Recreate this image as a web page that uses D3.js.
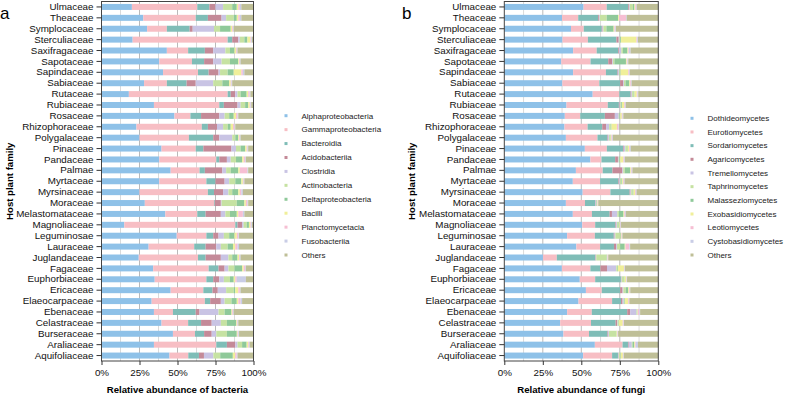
<!DOCTYPE html>
<html>
<head>
<meta charset="utf-8">
<script src="https://cdn.jsdelivr.net/npm/d3@7"></script>
<style>
  body { margin: 0; background: #fff; }
  svg text { font-family: "Liberation Sans", Arial, Helvetica, sans-serif; }
</style>
</head>
<body>
<div id="chart"></div>
<script>
// host plant families, top to bottom
const families = ["Ulmaceae", "Theaceae", "Symplocaceae", "Sterculiaceae", "Saxifragaceae", "Sapotaceae",
  "Sapindaceae", "Sabiaceae", "Rutaceae", "Rubiaceae", "Rosaceae", "Rhizophoraceae", "Polygalaceae",
  "Pinaceae", "Pandaceae", "Palmae", "Myrtaceae", "Myrsinaceae", "Moraceae", "Melastomataceae",
  "Magnoliaceae", "Leguminosae", "Lauraceae", "Juglandaceae", "Fagaceae", "Euphorbiaceae", "Ericaceae",
  "Elaeocarpaceae", "Ebenaceae", "Celastraceae", "Burseraceae", "Araliaceae", "Aquifoliaceae"];

const bacteriaTaxa = ["Alphaproteobacteria", "Gammaproteobacteria", "Bacteroidia", "Acidobacteriia", "Clostridia",
  "Actinobacteria", "Deltaproteobacteria", "Bacilli", "Planctomycetacia", "Fusobacteriia", "Others"];

const fungiTaxa = ["Dothideomycetes", "Eurotiomycetes", "Sordariomycetes", "Agaricomycetes", "Tremellomycetes",
  "Taphrinomycetes", "Malasseziomycetes", "Exobasidiomycetes", "Leotiomycetes", "Cystobasidiomycetes", "Others"];

const taxaColors = ["#8ec1e8", "#f7bec4", "#7fbdb7", "#c48a98", "#c9c4e4", "#c6e2a2",
  "#8fc99a", "#f0ef9a", "#f6bfd3", "#c9cde6", "#bfbf97"];

const xTicks = [0, 0.25, 0.5, 0.75, 1];

// relative abundance (%) per family, columns in taxa order
const bacteriaValues = [
  [20, 43, 8, 4, 5, 6, 3, 1, 1, 1, 8],
  [27.5, 34.5, 8, 9, 3, 5, 2, 1, 1, 1, 8],
  [30, 13, 15, 2, 14, 4, 7, 1, 0.5, 0.5, 13],
  [20.5, 62.5, 3, 4, 1, 3, 2, 2, 0.5, 0.5, 1],
  [43, 14, 11, 5.5, 8, 3, 3, 1, 0.5, 0.5, 10.5],
  [38, 21.5, 8, 6, 5.5, 5.5, 5.5, 0.5, 0.5, 0.5, 8.5],
  [40.5, 23, 7, 6.5, 1, 5, 4, 5, 1, 1, 6],
  [28, 15, 13, 6, 11.5, 6, 4.5, 1, 0.5, 0.5, 14],
  [18, 65, 2, 3, 1.5, 2, 4, 1, 1, 0.5, 2],
  [34.5, 43, 3, 9, 2, 3, 2, 1, 0.5, 0.5, 1.5],
  [48, 10.5, 7, 12, 3.5, 3, 3, 1.5, 1, 0.5, 10],
  [23, 43, 4, 6, 4, 3, 2, 1.5, 1, 0.5, 12],
  [25, 32.5, 16, 4, 8.5, 2, 2, 0.5, 0.5, 0.5, 8.5],
  [39.5, 22.5, 5, 18.5, 3, 3, 3, 1, 0.5, 0.5, 3.5],
  [38, 37.5, 2, 5, 2.5, 3.5, 4, 1, 1, 0.5, 5],
  [45.5, 19, 3.5, 11.5, 2.5, 3, 5, 1, 5, 0.5, 3.5],
  [38, 31, 6, 6, 3, 4, 4, 1, 0.5, 0.5, 6],
  [25, 45, 4, 6, 3.5, 2.5, 4, 1, 1, 1, 7],
  [28.5, 45.5, 0.5, 4, 0.5, 10, 5, 1, 1, 0.5, 3.5],
  [42, 21, 5.5, 10, 3, 3, 4.5, 1, 3, 1, 6],
  [15, 73, 1.5, 3, 1, 2, 1.5, 1, 0.5, 0.5, 1],
  [49.5, 19.5, 4.5, 3.5, 3.5, 3.5, 3.5, 1.5, 1, 0.5, 9.5],
  [31, 30, 7.5, 7, 3, 4.5, 3.5, 1.5, 1.5, 1, 9.5],
  [24.5, 39, 5, 10, 5, 2.5, 3.5, 1, 0.5, 0.5, 8.5],
  [34, 36.5, 6.5, 4, 2.5, 4, 5, 1, 1, 0.5, 5],
  [35, 34, 4.5, 4, 3, 4, 2.5, 1, 1, 6, 5],
  [45.5, 21.5, 6, 3.5, 5.5, 5, 1, 2, 1, 0.5, 8.5],
  [33, 35, 3.5, 7, 2.5, 4.5, 3.5, 1, 1.5, 1, 7.5],
  [34.5, 12.5, 15, 2.5, 12.5, 4, 4.5, 0.5, 0.5, 0.5, 13],
  [39.5, 17.5, 8.5, 7, 6, 4, 6, 0.5, 0.5, 0.5, 10],
  [47, 14.5, 6, 5, 3, 7, 6.5, 0.5, 0.5, 0.5, 9.5],
  [34.5, 41, 7, 5.5, 1.5, 3, 3, 1, 0.5, 0.5, 2.5],
  [44.7, 12.4, 7, 3.3, 6.2, 4.5, 8.3, 1.5, 1, 0.6, 10.5]
];

const fungiValues = [
  [51.5, 15, 14, 0.5, 0.5, 2, 1, 0.5, 0.5, 0.5, 14],
  [37.5, 10.5, 13, 0.5, 0.5, 4.5, 7.5, 0.5, 4.5, 0.5, 20.5],
  [43.3, 8.3, 11.7, 0.5, 0.5, 2, 4.7, 0.5, 0.5, 0.5, 27.5],
  [37.8, 16.5, 18.5, 1.5, 0.5, 0.5, 0.5, 10, 0.5, 0.5, 13.2],
  [44.7, 15.3, 14, 0.5, 1.5, 1, 3, 0.5, 0.5, 1, 18],
  [37, 19, 11.5, 2.5, 0.5, 1, 7.5, 0.5, 0.5, 0.5, 19.5],
  [44.7, 21.3, 7.5, 0.5, 0.5, 0.5, 0.5, 5, 0.5, 0.5, 18.5],
  [37.7, 24, 13.5, 2, 0.5, 1, 2.5, 0.5, 0.5, 0.5, 17.3],
  [57.4, 17.3, 7.3, 0.5, 0.5, 1, 0.5, 1.5, 0.5, 0.5, 13],
  [40.4, 26.8, 7.2, 0.5, 0.5, 0.5, 0.5, 1.5, 0.5, 0.5, 21.1],
  [39.3, 10, 16, 6.5, 2.5, 0.5, 0.5, 1, 0.5, 0.5, 22.7],
  [39.1, 15, 9.5, 2.5, 2, 1, 0.5, 3.5, 1, 0.5, 25.4],
  [40, 20.5, 6.5, 0.5, 0.5, 0.5, 0.5, 0.5, 0.5, 0.5, 29.5],
  [52.3, 14.3, 10.5, 0.5, 1, 1, 0.5, 1, 0.5, 0.5, 17.9],
  [55.9, 7.2, 8.9, 1.8, 0.5, 0.5, 0.5, 2, 0.5, 0.5, 21.7],
  [46.5, 17.4, 6.3, 6.5, 0.5, 1, 3.5, 0.5, 0.5, 0.5, 16.8],
  [44.5, 17.7, 11.9, 0.5, 0.5, 1, 0.5, 0.5, 0.5, 0.5, 21.9],
  [50.9, 18, 12.5, 0.5, 0.5, 1, 0.5, 1, 0.5, 0.5, 14.1],
  [40, 12.4, 6.6, 0.3, 0.3, 0.3, 0.3, 0.3, 0.3, 0.2, 39],
  [44.5, 12.4, 11.5, 1.5, 3.5, 1, 3, 0.5, 0.5, 0.5, 21.1],
  [50.6, 8.4, 13.2, 0.5, 0.5, 1, 0.5, 0.5, 0.3, 0.3, 24.2],
  [40.8, 18, 12.3, 0.5, 0.5, 3, 0.5, 0.5, 0.3, 0.3, 23.3],
  [46.8, 15.4, 9, 1.5, 0.5, 2, 3, 0.5, 2.5, 0.5, 18.3],
  [25.1, 9, 25, 0.3, 0.3, 6.6, 0.3, 0.3, 0.3, 0.3, 32.5],
  [37.4, 18.5, 6.5, 4.3, 6, 0.5, 0.5, 4, 0.3, 0.3, 21.7],
  [49, 10, 16.7, 0.3, 0.3, 1.5, 0.3, 1, 0.3, 0.3, 20.3],
  [53, 10.3, 11.9, 1.6, 0.5, 1.5, 1.7, 0.5, 0.5, 0.3, 18.2],
  [48.2, 21.8, 5.8, 1, 0.8, 0.5, 0.3, 2, 0.5, 0.3, 18.8],
  [40.8, 16, 23, 2, 4, 0.3, 0.3, 0.3, 1, 0.5, 11.8],
  [36.3, 20, 16, 1, 0.3, 0.5, 0.3, 2.5, 0.5, 0.3, 22.3],
  [38.4, 16.6, 12, 0.5, 0.5, 4.5, 0.3, 0.5, 0.3, 0.3, 26.1],
  [58.8, 18, 3.5, 0.5, 2, 0.5, 1, 0.5, 0.5, 1.5, 13.2],
  [51.2, 18.8, 3.8, 0.3, 0.3, 1, 0.3, 1.3, 0.3, 0.3, 22.4]
];

const W = 786, H = 395;

const svg = d3.select("#chart").append("svg")
  .attr("width", W)
  .attr("height", H);

function drawPanel(cfg) {
  const {letter, taxa, values, left, right, xTitle, legendX, legendY, legendStep, letterX} = cfg;
  const top = 1.5, bottom = 361;

  const x = d3.scaleLinear().domain([0, 1]).range([left, right]);
  const y = d3.scaleBand().domain(families).range([top, bottom])
    .paddingInner(0.45).paddingOuter(0.225);
  const color = d3.scaleOrdinal().domain(taxa).range(taxaColors);

  // rows as objects for the stack
  const rows = families.map((f, i) => {
    const o = {family: f};
    taxa.forEach((t, j) => o[t] = values[i][j]);
    return o;
  });
  const series = d3.stack().keys(taxa).offset(d3.stackOffsetExpand)(rows);

  const g = svg.append("g");

  // gridlines every 12.5%
  g.append("g").selectAll("line")
    .data(d3.range(1, 8).map(k => k / 8))
    .join("line")
    .attr("x1", d => x(d)).attr("x2", d => x(d))
    .attr("y1", top).attr("y2", bottom)
    .attr("stroke", (d, i) => i % 2 === 1 ? "#a8a8a8" : "#d0d0d0")
    .attr("stroke-width", 0.8);

  // stacked bars
  g.append("g").selectAll("g")
    .data(series)
    .join("g")
    .attr("fill", d => color(d.key))
    .selectAll("rect")
    .data(d => d)
    .join("rect")
    .attr("x", d => x(d[0]))
    .attr("y", d => y(d.data.family))
    .attr("width", d => Math.max(0, x(d[1]) - x(d[0])))
    .attr("height", y.bandwidth());

  // frame
  g.append("rect")
    .attr("x", left).attr("y", top)
    .attr("width", right - left).attr("height", bottom - top)
    .attr("fill", "none").attr("stroke", "#444").attr("stroke-width", 1);

  // y axis
  const yAxis = g.append("g")
    .attr("transform", `translate(${left},0)`)
    .call(d3.axisLeft(y).tickSize(5).tickSizeOuter(0).tickPadding(3));
  yAxis.select(".domain").remove();
  yAxis.selectAll("line").attr("stroke", "#333");
  yAxis.selectAll("text").attr("font-size", 9.8).attr("fill", "#111")
    .attr("font-family", "'Liberation Sans', Arial, sans-serif");

  // x axis
  const xAxis = g.append("g")
    .attr("transform", `translate(0,${bottom})`)
    .call(d3.axisBottom(x).tickValues(xTicks).tickFormat(d3.format(".0%")).tickSize(4).tickSizeOuter(0).tickPadding(4));
  xAxis.select(".domain").remove();
  xAxis.selectAll("line").attr("stroke", "#333");
  xAxis.selectAll("text").attr("font-size", 9.8).attr("fill", "#111")
    .attr("font-family", "'Liberation Sans', Arial, sans-serif");

  // axis titles
  g.append("text")
    .attr("x", (left + right) / 2).attr("y", 392.5)
    .attr("text-anchor", "middle")
    .attr("font-size", 9.6).attr("font-weight", "bold")
    .text(xTitle);

  g.append("text")
    .attr("transform", `translate(${letterX + 12.5},${(top + bottom) / 2}) rotate(-90)`)
    .attr("text-anchor", "middle")
    .attr("font-size", 9.6).attr("font-weight", "bold")
    .text("Host plant family");

  // panel letter
  g.append("text")
    .attr("x", letterX).attr("y", 19)
    .attr("font-size", 17)
    .text(letter);

  // legend
  const lg = g.append("g").selectAll("g")
    .data(taxa)
    .join("g")
    .attr("transform", (d, i) => `translate(${legendX},${legendY + i * legendStep})`);
  lg.append("rect")
    .attr("x", -1.5).attr("y", -1.5)
    .attr("width", 3).attr("height", 3)
    .attr("fill", d => color(d));
  lg.append("text")
    .attr("x", 15.5).attr("dy", "0.35em")
    .attr("font-size", 8).attr("fill", "#222")
    .text(d => d);
}

drawPanel({
  letter: "a", taxa: bacteriaTaxa, values: bacteriaValues,
  left: 101.5, right: 253.5, xTitle: "Relative abundance of bacteria",
  legendX: 286, legendY: 115.7, legendStep: 13.93, letterX: 0
});

drawPanel({
  letter: "b", taxa: fungiTaxa, values: fungiValues,
  left: 504.3, right: 658.3, xTitle: "Relative abundance of fungi",
  legendX: 692, legendY: 118.3, legendStep: 13.67, letterX: 402
});
</script>
</body>
</html>
